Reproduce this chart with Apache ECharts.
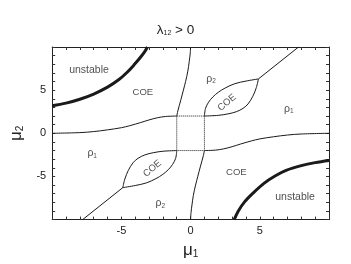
<!DOCTYPE html>
<html>
<head>
<meta charset="utf-8">
<script src="https://cdn.jsdelivr.net/npm/echarts@6/dist/echarts.min.js"></script>
<style>html,body{margin:0;padding:0;background:#fff}#c{width:351px;height:264px}</style>
</head>
<body>
<div id="c"></div>
<script>
// axis ranges and ticks
const xRange = [-10, 10];
const yRange = [-10, 10];
const tickStep = 5;

// thick "unstable" boundaries
const unstableTL = [[-10,3.2],[-9,3.5],[-8,3.95],[-7,4.55],[-6,5.35],[-5.2,6.2],[-4.6,7.05],[-4.1,7.9],[-3.65,8.75],[-3.3,9.5],[-3.12,10]];
const unstableBR = [[3.15,-10],[3.45,-9.0],[3.9,-7.95],[4.5,-6.95],[5.3,-5.8],[6.1,-4.95],[6.9,-4.3],[8,-3.75],[9,-3.4],[10,-3.15]];

// thin boundaries (upper half)
const leftUpper = [[-10,0],[-8,0.08],[-7,0.2],[-6,0.4],[-5,0.65],[-4.4,0.88],[-3.6,1.25],[-3,1.55],[-2.4,1.8],[-1.8,1.95],[-1,2]];
const vertUpper = [[-1,2],[-0.92,2.6],[-0.82,3.2],[-0.7,3.9],[-0.52,5.0],[-0.36,6.0],[-0.2,7.2],[-0.1,8.3],[-0.03,9.2],[0,10]];
const lensUpTop = [[1,2],[1.08,2.9],[1.3,3.6],[1.6,4.2],[2.0,4.75],[2.5,5.25],[3.2,5.75],[4.0,6.05],[4.9,6.3]];
const lensUpBot = [[1,2],[2.0,2.08],[2.7,2.25],[3.3,2.5],[3.8,2.9],[4.15,3.4],[4.5,4.3],[4.75,5.3],[4.9,6.3]];
const rayUpper = [[4.9,6.3],[7.8,10]];

// thin boundaries (lower half)
const rightLower = [[1,-2],[1.8,-1.95],[2.4,-1.8],[3,-1.55],[3.6,-1.25],[4.4,-0.88],[5,-0.65],[6,-0.4],[7,-0.2],[8,-0.08],[10,0]];
const vertLower = [[1,-2],[0.92,-2.6],[0.82,-3.2],[0.7,-3.9],[0.52,-5.0],[0.36,-6.0],[0.2,-7.2],[0.1,-8.3],[0.03,-9.2],[0,-10]];
const lensLowBot = [[-1,-2],[-1.08,-2.9],[-1.3,-3.6],[-1.6,-4.2],[-2.0,-4.75],[-2.5,-5.25],[-3.2,-5.75],[-4.0,-6.05],[-4.9,-6.3]];
const lensLowTop = [[-1,-2],[-2.0,-2.08],[-2.7,-2.25],[-3.3,-2.5],[-3.8,-2.9],[-4.15,-3.4],[-4.5,-4.3],[-4.75,-5.3],[-4.9,-6.3]];
const rayLower = [[-4.9,-6.3],[-7.8,-10]];

// dotted central square
const centerBox = [[-1,2],[1,2],[1,-2],[-1,-2],[-1,2]];

// region labels: [x, y, text, rotation]
const regionLabels = [
  [-7.34, 7.33, '{u|unstable}', 0],
  [-3.45, 4.74, '{c|COE}', 0],
  [1.48, 6.33, '{r|ρ}{s|2}', 0],
  [2.63, 3.56, '{c|COE}', 40],
  [7.09, 2.81, '{r|ρ}{s|1}', 0],
  [-7.11, -2.33, '{r|ρ}{s|1}', 0],
  [-2.76, -4.08, '{c|COE}', 40],
  [3.31, -4.56, '{c|COE}', 0],
  [-2.19, -8.14, '{r|ρ}{s|2}', 0],
  [7.55, -7.41, '{u|unstable}', 0]
];

const FONT = 'Liberation Sans, Arial, sans-serif';
const INK = '#1a1a1a';

function lineSeries(data, width, type) {
  return {
    type: 'line', data: data, showSymbol: false, symbol: 'none', smooth: data.length > 2 ? 0.35 : false,
    lineStyle: { color: INK, width: width, type: type || 'solid' }, silent: true, z: 3
  };
}

function axisCommon(pos, showLabel, range) {
  return {
    type: 'value', min: range[0], max: range[1], interval: tickStep, position: pos,
    axisLine: { show: true, onZero: false, lineStyle: { color: '#222', width: 1 } },
    axisTick: { show: true, inside: true, length: 3, lineStyle: { color: '#333' } },
    minorTick: { show: true, splitNumber: 5, length: 3, lineStyle: { color: '#333' } },
    splitLine: { show: false },
    axisLabel: {
      show: showLabel, fontSize: 11, color: '#222', fontFamily: FONT, margin: 6,
      formatter: v => (v === range[0] || v === range[1]) ? '' : String(v)
    }
  };
}

const chart = echarts.init(document.getElementById('c'), null, { renderer: 'canvas' });

const nameRich = {
  m: { fontSize: 17, fontFamily: FONT, color: '#222', fontWeight: 'normal' },
  s: { fontSize: 10, fontFamily: FONT, color: '#222', fontWeight: 'normal', verticalAlign: 'bottom', padding: [8, 0, 0, 0] }
};
const xBottom = axisCommon('bottom', true, xRange);
xBottom.name = '{m|μ}{s|1}';
xBottom.nameLocation = 'middle';
xBottom.nameGap = 19;
xBottom.nameTextStyle = { color: '#222', fontFamily: FONT, rich: nameRich };
const yLeft = axisCommon('left', true, yRange);
yLeft.name = '{m|μ}{s|2}';
yLeft.nameLocation = 'middle';
yLeft.nameGap = 20;
yLeft.nameTextStyle = { color: '#222', fontFamily: FONT, rich: nameRich };

chart.setOption({
  animation: false,
  backgroundColor: '#fff',
  title: {
    text: '{l|λ}{s|12}{l| > 0}', left: 'center', top: 18,
    textStyle: { fontWeight: 'normal', rich: {
      l: { fontSize: 13.5, fontFamily: FONT, color: '#222', fontWeight: 'normal' },
      s: { fontSize: 7, fontFamily: FONT, color: '#222', fontWeight: 'normal', verticalAlign: 'bottom', padding: [5, 0, 0, 0] }
    }}
  },
  grid: { left: 38, right: 22, top: 47, bottom: 37, containLabel: false },
  xAxis: [xBottom, axisCommon('top', false, xRange)],
  yAxis: [yLeft, axisCommon('right', false, yRange)],
  series: [
    lineSeries(unstableTL, 3),
    lineSeries(unstableBR, 3),
    lineSeries(leftUpper, 1),
    lineSeries(vertUpper, 1),
    lineSeries(lensUpTop, 1),
    lineSeries(lensUpBot, 1),
    lineSeries(rayUpper, 1),
    lineSeries(rightLower, 1),
    lineSeries(vertLower, 1),
    lineSeries(lensLowBot, 1),
    lineSeries(lensLowTop, 1),
    lineSeries(rayLower, 1),
    Object.assign(lineSeries(centerBox, 1, 'dotted'), { smooth: false }),
    {
      type: 'scatter', symbolSize: 0.1, itemStyle: { color: 'rgba(0,0,0,0)' }, silent: true, z: 5,
      data: regionLabels.map(d => ({
        value: [d[0], d[1]],
        label: { show: true, position: 'inside', formatter: d[2], rotate: d[3],
          rich: {
            u: { fontSize: 10.5, fontFamily: FONT, color: '#222' },
            c: { fontSize: 9.5, fontFamily: FONT, color: '#222' },
            r: { fontSize: 10.5, fontFamily: FONT, color: '#222' },
            s: { fontSize: 6.5, fontFamily: FONT, color: '#222', verticalAlign: 'bottom', padding: [5, 0, 0, 0] }
          } }
      }))
    }
  ]
});
</script>
</body>
</html>
